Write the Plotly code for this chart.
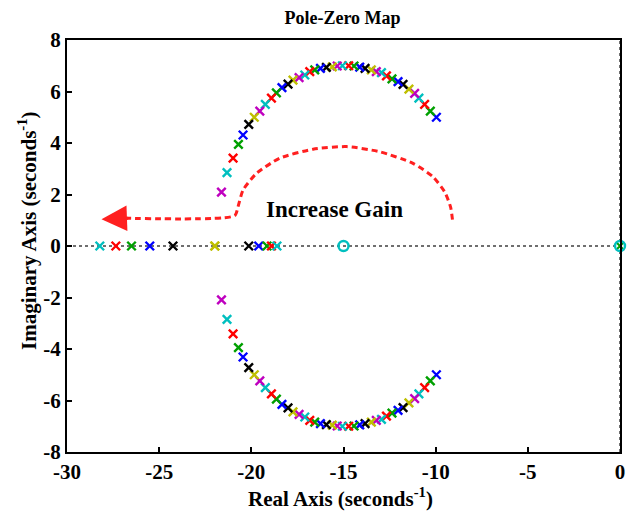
import plotly.graph_objects as go

# ---------------- data ----------------
# complex-pole branch (upper half), systems 1..40 (low gain -> high gain)
upper_re = [-9.96, -10.29, -10.60, -10.91, -11.14, -11.45, -11.77, -12.04, -12.37, -12.67,
            -12.94, -13.22, -13.49, -13.83, -14.12, -14.43, -14.72, -15.06, -15.34, -15.61,
            -15.93, -16.25, -16.56, -16.83, -17.10, -17.41, -17.74, -18.01, -18.34, -18.64,
            -18.91, -19.24, -19.54, -19.84, -20.14, -20.45, -20.70, -20.99, -21.32, -21.62]
upper_im = [5.00, 5.24, 5.50, 5.74, 5.93, 6.09, 6.28, 6.38, 6.49, 6.61,
            6.73, 6.77, 6.84, 6.90, 6.95, 6.99, 7.00, 7.00, 6.99, 6.96,
            6.94, 6.90, 6.84, 6.77, 6.64, 6.54, 6.44, 6.29, 6.15, 5.95,
            5.74, 5.50, 5.24, 5.00, 4.72, 4.31, 3.95, 3.41, 2.85, 2.09]
# systems 41..46: both poles real
real_right = [-21.98, -20.14, -19.60, -19.15, -18.91, -18.61]
real_left = [-21.98, -24.25, -25.51, -26.50, -27.35, -28.22]
zeros = [-15.0, 0.0]
origin_pole = [0.0]

# annotation path (red dashed "Increase Gain" arrow)
path_re = [-27.41, -20.90, -20.72, -20.45, -19.72, -18.46, -16.65, -14.84, -13.04,
           -11.23, -10.15, -9.51, -9.19, -9.08]
path_im = [1.09, 1.18, 1.53, 2.17, 2.82, 3.41, 3.76, 3.86, 3.66, 3.21, 2.69, 2.10, 1.51, 0.97]
arrow_tip = (-28.13, 1.04)
arrow_tail = (-26.6, 1.08)

x_ticks = [-30, -25, -20, -15, -10, -5, 0]
y_ticks = [-8, -6, -4, -2, 0, 2, 4, 6, 8]

# ---------------- style ----------------
color_order = ["#0000FF", "#00A000", "#FF0000", "#00BFBF", "#BF00BF", "#BFBF00", "#000000"]
FONT = "Liberation Serif"

fig = go.Figure()

# real axis dotted line and imaginary axis dotted line
fig.add_trace(go.Scatter(x=[-30, 0], y=[0, 0], mode="lines",
                         line=dict(color="#404040", width=1.5, dash="dot"),
                         hoverinfo="skip", showlegend=False))
fig.add_trace(go.Scatter(x=[0, 0], y=[-8, 8], mode="lines",
                         line=dict(color="#404040", width=1.5, dash="dot"),
                         hoverinfo="skip", showlegend=False, cliponaxis=False))

# build systems
systems = []
for re, im in zip(upper_re, upper_im):
    systems.append(([re, re], [im, -im]))
for a, b in zip(real_right, real_left):
    systems.append(([a, b], [0, 0]))

for k, (px, py) in enumerate(systems):
    c = color_order[k % 7]
    fig.add_trace(go.Scatter(x=px, y=py, mode="markers",
                             marker=dict(symbol="x-thin", size=8.5, color=c,
                                         line=dict(width=2.4, color=c)),
                             showlegend=False, cliponaxis=False))

# origin pole
fig.add_trace(go.Scatter(x=origin_pole, y=[0], mode="markers",
                         marker=dict(symbol="x-thin", size=6, line=dict(width=2, color=color_order[1])),
                         showlegend=False, cliponaxis=False))
# zeros (last system's colour on top)
fig.add_trace(go.Scatter(x=zeros, y=[0] * len(zeros), mode="markers",
                         marker=dict(symbol="circle-open", size=10, color=color_order[(len(systems) - 1) % 7],
                                     line=dict(width=2.4)),
                         showlegend=False, cliponaxis=False))

# dashed red curve
fig.add_trace(go.Scatter(x=path_re, y=path_im, mode="lines",
                         line=dict(color="#FF2020", width=3, dash="6px,4px", shape="spline", smoothing=0.6),
                         hoverinfo="skip", showlegend=False))

fig.add_annotation(x=arrow_tip[0], y=arrow_tip[1], ax=arrow_tail[0], ay=arrow_tail[1],
                   xref="x", yref="y", axref="x", ayref="y", text="", showarrow=True,
                   arrowhead=2, arrowsize=1.7, arrowwidth=3, arrowcolor="#FF2020")
fig.add_annotation(x=-15.5, y=1.40, xref="x", yref="y", text="<b>Increase Gain</b>",
                   showarrow=False, font=dict(family=FONT, size=23, color="black"))

axis_common = dict(showgrid=False, zeroline=False, showline=True, linecolor="black", linewidth=2,
                   mirror=True, ticks="inside", ticklen=5, tickwidth=1.5, tickcolor="black",
                   automargin=False,
                   tickfont=dict(family=FONT, size=21, color="black"))

fig.update_xaxes(range=[-30, 0], tickvals=x_ticks, ticktext=[f"<b>{v}</b>" for v in x_ticks],
                 **axis_common)
fig.update_yaxes(range=[-8, 8], tickvals=y_ticks, ticktext=[f"<b>{v}</b>" for v in y_ticks],
                 **axis_common)

# axis titles
fig.add_annotation(x=(340 - 67) / 553, y=(516 - 497 - 64) / 412, xref="paper", yref="paper",
                   text="<b>Real Axis (seconds<sup>-1</sup>)</b>", showarrow=False,
                   xanchor="center", yanchor="middle",
                   font=dict(family=FONT, size=21, color="black"))
fig.add_annotation(x=(27 - 67) / 553, y=(452 - 231) / 412, xref="paper", yref="paper",
                   text="<b>Imaginary Axis (seconds<sup>-1</sup>)</b>", showarrow=False,
                   textangle=-90, xanchor="center", yanchor="middle",
                   font=dict(family=FONT, size=21, color="black"))

fig.update_layout(
    width=627, height=516, autosize=False,
    margin=dict(l=67, r=7, t=40, b=64),
    paper_bgcolor="white", plot_bgcolor="white",
    title=dict(text="<b>Pole-Zero Map</b>", x=342.5 / 627, xanchor="center", y=1 - 18 / 516, yanchor="middle",
               font=dict(family=FONT, size=18, color="black")),
)

fig.write_html("out.html")
